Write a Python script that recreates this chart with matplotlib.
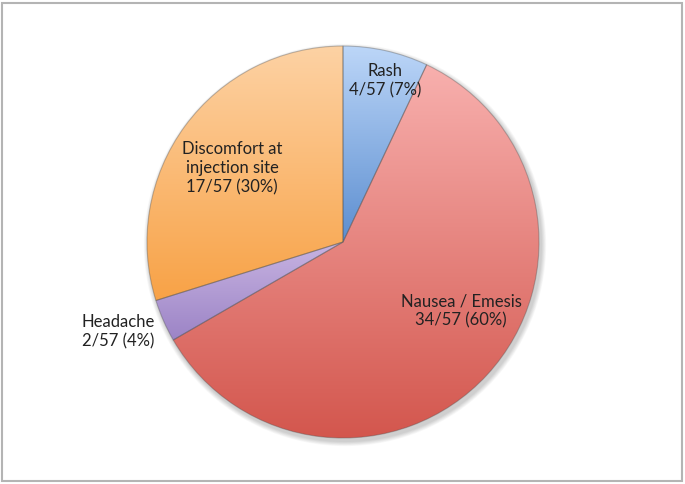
import numpy as np
import matplotlib
matplotlib.use("Agg")
import matplotlib.pyplot as plt
from matplotlib.colors import LinearSegmentedColormap
from matplotlib.patches import Rectangle, Circle

plt.rcParams["font.family"] = ["Lato", "DejaVu Sans"]

# data
labels = ["Rash", "Nausea / Emesis", "Headache", "Discomfort at\ninjection site"]
counts = [4, 34, 2, 17]
total = 57

# light (top) -> dark (bottom) colours per slice
top_colors = ["#bcd6f8", "#f8b0ae", "#c8b4e2", "#fdd2a4"]
bottom_colors = ["#5c8ed0", "#d3564d", "#9c84c6", "#f8a246"]

# label anchor points in pixels (from the top-left)
label_pos = [(385, 81), (461, 311), (118, 332), (232, 168)]

W, H = 685, 484
fig = plt.figure(figsize=(W / 100, H / 100), dpi=100)
ax = fig.add_axes([0, 0, 1, 1])

cx, cy, r = 343, H - 242, 196

# soft shadow
for k in range(8):
    ax.add_patch(Circle((cx + 2, cy - 3), r + 1 + k * 0.6, color="k",
                        alpha=0.025, lw=0, zorder=0))

wedges, _ = ax.pie(counts, startangle=90, counterclock=False,
                   center=(cx, cy), radius=r,
                   wedgeprops=dict(edgecolor=(0.3, 0.3, 0.3, 0.35), linewidth=0.8))

for w, c0, c1 in zip(wedges, top_colors, bottom_colors):
    w.set_facecolor("none")
    w.set_zorder(3)
    path = w.get_path()
    verts = w.get_transform().transform(path.vertices)
    verts = ax.transData.inverted().transform(verts)
    x0, x1 = verts[:, 0].min(), verts[:, 0].max()
    y0, y1 = verts[:, 1].min(), verts[:, 1].max()
    cmap = LinearSegmentedColormap.from_list("g", [c1, c0])
    grad = np.linspace(0, 1, 256).reshape(-1, 1)
    im = ax.imshow(grad, cmap=cmap, extent=(x0, x1, y0, y1), origin="lower",
                   aspect="auto", zorder=2, interpolation="bilinear")
    im.set_clip_path(w)

for lab, n, (px, py) in zip(labels, counts, label_pos):
    pct = round(100 * n / total)
    ax.text(px, H - py, f"{lab}\n{n}/{total} ({pct}%)", ha="center", va="center",
            fontsize=12, color="#222222", linespacing=1.25, zorder=5)

ax.set_xlim(0, W)
ax.set_ylim(0, H)
ax.set_aspect("auto")
ax.axis("off")

ax.add_patch(Rectangle((2, 3), W - 5, H - 6, fill=False, edgecolor="#b4b4b4",
                       linewidth=1.5, zorder=6))

fig.savefig("out.png", dpi=100)
